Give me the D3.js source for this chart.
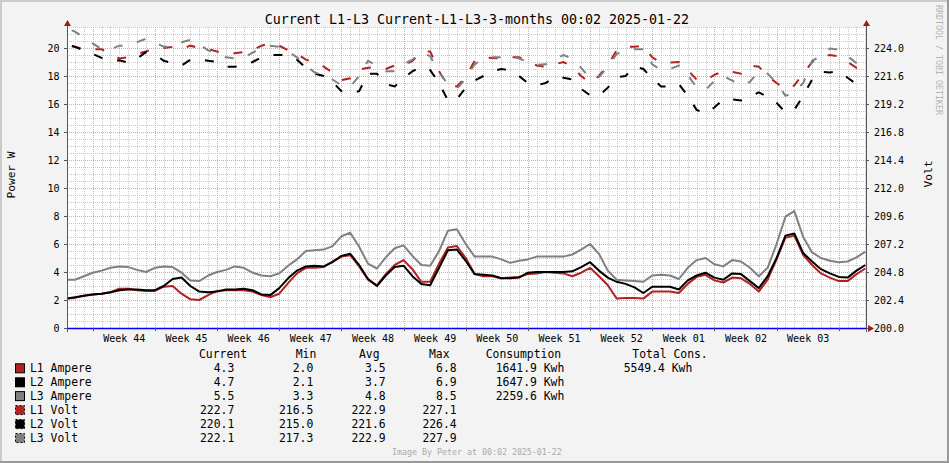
<!DOCTYPE html>
<html><head><meta charset="utf-8">
<script src="https://cdn.jsdelivr.net/npm/d3@7"></script>
<style>
html,body{margin:0;padding:0;background:#f3f3f3;}
svg{display:block;}
text{font-family:"DejaVu Sans Mono",monospace;}
</style></head><body>
<svg id="c" width="949" height="463"></svg>
<script>
// ---- data (one sample per day, 00:00 UTC, from 2024-10-24 to 2025-01-22) ----
const firstDay = Date.UTC(2024, 9, 24);
const l1Amp = [2.1,2.15,2.3,2.4,2.45,2.55,2.8,2.8,2.7,2.65,2.65,2.95,3.0,2.45,2.05,2.0,2.35,2.65,2.7,2.7,
  2.7,2.6,2.35,2.2,2.45,3.2,3.9,4.3,4.3,4.35,4.75,5.1,5.2,4.4,3.45,3.05,3.85,4.5,4.85,4.2,
  3.3,3.3,4.6,5.75,5.85,5.0,3.85,3.7,3.7,3.55,3.6,3.65,3.85,3.9,4.0,3.95,3.9,3.7,3.95,4.3,
  3.7,3.05,2.1,2.15,2.15,2.1,2.6,2.6,2.6,2.5,3.15,3.65,3.8,3.4,3.25,3.6,3.55,3.15,2.6,3.45,
  4.9,6.45,6.6,5.2,4.5,3.9,3.6,3.35,3.35,3.85,4.25];
const l2Amp = [2.1,2.2,2.3,2.4,2.45,2.55,2.7,2.75,2.75,2.7,2.7,3.0,3.5,3.6,3.0,2.6,2.55,2.6,2.75,2.75,
  2.8,2.7,2.4,2.35,2.85,3.55,4.1,4.4,4.45,4.4,4.7,5.15,5.3,4.5,3.5,3.0,3.75,4.35,4.45,3.7,
  3.15,3.05,4.3,5.55,5.6,4.8,3.85,3.8,3.75,3.55,3.55,3.6,3.95,4.0,4.0,4.0,4.0,4.05,4.35,4.7,
  4.1,3.6,3.3,3.15,2.9,2.5,2.95,2.95,2.95,2.75,3.4,3.75,3.95,3.6,3.45,3.9,3.85,3.35,2.85,3.7,
  5.0,6.6,6.75,5.35,4.75,4.2,3.9,3.65,3.6,4.1,4.5];
const l3Amp = [3.45,3.45,3.7,3.95,4.1,4.3,4.4,4.35,4.15,4.0,4.3,4.4,4.35,3.95,3.4,3.35,3.75,4.0,4.15,4.4,
  4.3,3.95,3.75,3.7,3.9,4.45,4.9,5.5,5.55,5.6,5.85,6.55,6.8,5.8,4.6,4.25,5.05,5.7,5.9,5.15,
  4.5,4.45,5.5,6.95,7.05,6.0,5.1,5.1,5.1,4.9,4.65,4.8,4.9,5.1,5.1,5.1,5.1,5.25,5.6,6.0,
  5.3,4.1,3.45,3.4,3.35,3.3,3.75,3.8,3.75,3.5,4.3,4.85,5.0,4.55,4.4,4.85,4.75,4.3,3.7,4.3,
  6.0,7.95,8.35,6.5,5.4,5.0,4.8,4.7,4.75,5.05,5.45];
const l1Volt = [224.3,224.1,223.9,223.9,223.9,223.5,223.1,223.2,223.5,223.7,224.0,224.0,224.1,223.9,224.2,224.0,223.9,223.7,223.5,223.55,
  223.65,223.8,224.2,224.4,224.2,223.8,223.5,223.0,222.8,222.4,221.9,221.25,221.4,222.15,222.3,222.4,222.2,222.5,222.5,222.9,
  223.7,223.7,222.0,220.8,220.7,221.5,222.9,223.2,223.15,223.1,223.2,223.2,222.9,222.5,222.4,222.6,222.8,222.4,221.6,221.0,
  221.6,222.55,223.8,224.1,224.1,224.2,223.2,222.75,222.75,222.8,222.1,221.3,221.2,221.7,222.0,221.95,221.8,222.5,222.4,221.6,
  221.0,220.5,220.8,221.8,222.8,223.2,223.4,223.3,222.8,222.3,222.1];
const l2Volt = [224.3,224.1,223.8,223.5,223.15,222.9,222.95,222.75,223.1,223.65,223.45,222.9,222.7,222.5,223.0,223.05,222.9,222.8,222.4,222.4,
  222.5,222.8,223.2,223.4,223.4,223.4,223.0,222.3,221.8,221.6,221.1,220.3,220.1,220.3,221.8,221.8,220.9,220.7,221.4,222.0,
  222.4,222.1,221.0,219.5,219.6,220.6,221.2,221.6,222.0,222.2,222.1,221.6,221.0,220.8,221.0,221.5,221.45,221.3,220.5,219.95,
  219.9,220.6,221.5,221.6,222.4,222.2,221.4,220.7,220.7,220.9,219.9,218.7,218.4,218.9,219.6,219.6,219.5,219.8,220.2,219.8,
  219.3,218.5,218.7,219.9,221.3,221.95,221.9,222.0,221.45,220.9,220.45];
const l3Volt = [225.7,225.4,224.9,224.4,223.9,223.9,224.2,224.2,224.5,224.8,224.5,224.1,224.1,224.5,224.7,224.3,223.8,223.5,223.2,223.1,
  223.15,223.6,224.0,224.2,224.1,223.7,223.2,222.5,221.9,221.7,221.3,220.8,220.7,221.6,222.9,222.5,222.0,222.0,222.6,223.0,
  223.6,223.3,221.9,220.9,220.5,221.4,222.6,223.1,223.2,223.2,223.3,223.1,222.8,222.55,222.6,223.0,223.4,223.1,222.3,221.4,
  221.5,222.4,223.5,223.7,223.9,223.9,222.6,222.1,222.2,222.5,221.7,220.6,220.4,221.2,221.6,221.2,220.8,221.1,222.0,221.8,
  221.0,219.9,220.2,221.0,222.9,223.3,223.95,223.85,223.3,222.7,222.2];

const weekLabels = ["Week 44","Week 45","Week 46","Week 47","Week 48","Week 49","Week 50","Week 51","Week 52","Week 01","Week 02","Week 03"];
const firstSunday = Date.UTC(2024, 9, 27);
const leftTicks = [0,2,4,6,8,10,12,14,16,18,20];
const rightTicks = [200.0,202.4,204.8,207.2,209.6,212.0,214.4,216.8,219.2,221.6,224.0];

const seriesNames = ["L1 Ampere","L2 Ampere","L3 Ampere","L1 Volt","L2 Volt","L3 Volt"];
const seriesColors = ["#b22222","#000000","#808080","#b22222","#000000","#808080"];
const statCurrent = ["4.3","4.7","5.5","222.7","220.1","222.1"];
const statMin = ["2.0","2.1","3.3","216.5","215.0","217.3"];
const statAvg = ["3.5","3.7","4.8","222.9","221.6","222.9"];
const statMax = ["6.8","6.9","8.5","227.1","226.4","227.9"];
const consumption = ["1641.9 Kwh","1647.9 Kwh","2259.6 Kwh"];
const totalCons = "5549.4 Kwh";

// ---- layout ----
const W = 949, H = 463;
const L = 67, R = 866, T = 27, B = 328;
const DAY = 86400000;
const tStart = Date.UTC(2024, 9, 24, 2, 33), tEnd = Date.UTC(2025, 0, 22, 1, 41);

const svg = d3.select("#c");
const x = d3.scaleUtc().domain([tStart, tEnd]).range([L, R]);
const yW = d3.scaleLinear().domain([0, 21.5]).range([B, T]);
const yV = d3.scaleLinear().domain([200, 200 + 21.5 * 1.2]).range([B, T]);

// background + frame
svg.append("rect").attr("width", W).attr("height", H).attr("fill", "#f3f3f3");
svg.append("rect").attr("x",0).attr("y",0).attr("width",W).attr("height",2).attr("fill","#cbcbcb");
svg.append("rect").attr("x",0).attr("y",0).attr("width",2).attr("height",H).attr("fill","#cbcbcb");
svg.append("rect").attr("x",0).attr("y",H-2).attr("width",W).attr("height",2).attr("fill","#999");
svg.append("rect").attr("x",W-2).attr("y",0).attr("width",2).attr("height",H).attr("fill","#999");

// canvas
svg.append("rect").attr("x", L).attr("y", T).attr("width", R - L).attr("height", B - T).attr("fill", "#fff");

// grid
const grid = svg.append("g").attr("shape-rendering", "crispEdges");
const minorH = d3.range(1, 44).map(k => k * 0.5).filter(v => v % 2 !== 0);
const majorH = leftTicks.filter(v => v > 0);
grid.selectAll(".mh").data(minorH).join("line")
  .attr("x1", L).attr("x2", R).attr("y1", d => Math.round(yW(d)) + 0.5).attr("y2", d => Math.round(yW(d)) + 0.5)
  .attr("stroke", "#c8c8c8").attr("stroke-dasharray", "1,1");
const days = d3.utcDay.range(new Date(tStart), new Date(tEnd));
const sundays = days.filter(d => d.getUTCDay() === 0);
grid.selectAll(".mv").data(days.filter(d => d.getUTCDay() !== 0)).join("line")
  .attr("y1", T).attr("y2", B).attr("x1", d => Math.round(x(d)) + 0.5).attr("x2", d => Math.round(x(d)) + 0.5)
  .attr("stroke", "#c8c8c8").attr("stroke-dasharray", "1,1");
grid.selectAll(".Mh").data(majorH).join("line")
  .attr("x1", L).attr("x2", R).attr("y1", d => Math.round(yW(d)) + 0.5).attr("y2", d => Math.round(yW(d)) + 0.5)
  .attr("stroke", "#f09a9a").attr("stroke-dasharray", "1,1");
grid.selectAll(".Mv").data(sundays).join("line")
  .attr("y1", T).attr("y2", B).attr("x1", d => Math.round(x(d)) + 0.5).attr("x2", d => Math.round(x(d)) + 0.5)
  .attr("stroke", "#f09a9a").attr("stroke-dasharray", "1,1");

// lines
const clip = svg.append("clipPath").attr("id", "pc").append("rect")
  .attr("x", L).attr("y", T - 2).attr("width", R - L).attr("height", B - T + 2);
const plot = svg.append("g").attr("clip-path", "url(#pc)");
const dateOf = i => firstDay + i * DAY;
const ampLine = d3.line().x((d, i) => x(dateOf(i))).y(d => yW(d));
const voltLine = d3.line().x((d, i) => x(dateOf(i))).y(d => yV(d));
[l1Amp, l2Amp, l3Amp].forEach((s, k) => {
  plot.append("path").datum(s).attr("d", ampLine).attr("fill", "none")
    .attr("stroke", seriesColors[k]).attr("stroke-width", 2).attr("stroke-linejoin", "round");
});
[l1Volt, l2Volt, l3Volt].forEach((s, k) => {
  plot.append("path").datum(s).attr("d", voltLine).attr("fill", "none")
    .attr("stroke", seriesColors[k + 3]).attr("stroke-width", 2)
    .attr("stroke-dasharray", "9,15").attr("stroke-dashoffset", 18);
});

// zero rule
svg.append("line").attr("x1", L).attr("x2", R).attr("y1", B + 0.5).attr("y2", B + 0.5)
  .attr("stroke", "#0000ff").attr("stroke-width", 1.5);

// axes
const axisCol = "#555";
const gl = svg.append("g").attr("transform", `translate(${L},0)`)
  .call(d3.axisLeft(yW).tickValues(leftTicks).tickFormat(d3.format("d")).tickSize(3).tickPadding(4.5));
const gr = svg.append("g").attr("transform", `translate(${R},0)`)
  .call(d3.axisRight(yV).tickValues(rightTicks).tickFormat(d3.format(".1f")).tickSize(3).tickPadding(5));
const mids = sundays.slice(0, weekLabels.length).map(d => new Date(+d + 3.5 * DAY));
const gb = svg.append("g").attr("transform", `translate(0,${B})`)
  .call(d3.axisBottom(x).tickValues(mids).tickFormat((d, i) => weekLabels[i]).tickSize(0).tickPadding(6.4));
[gl, gr, gb].forEach(g => {
  g.select(".domain").remove();
  g.selectAll("line").attr("stroke", axisCol);
  g.selectAll("text").attr("font-family", "DejaVu Sans Mono").attr("font-size", 10).attr("fill", "#000");
});
svg.append("g").selectAll("line").data(sundays).join("line")
  .attr("x1", d => Math.round(x(d)) + 0.5).attr("x2", d => Math.round(x(d)) + 0.5)
  .attr("y1", B).attr("y2", B + 3).attr("stroke", axisCol);
svg.append("line").attr("x1", L + 0.5).attr("x2", L + 0.5).attr("y1", 24).attr("y2", B + 4).attr("stroke", axisCol);
svg.append("line").attr("x1", R + 0.5).attr("x2", R + 0.5).attr("y1", 24).attr("y2", B + 4).attr("stroke", axisCol);
// arrows
const arrowCol = "#9b1c1c";
svg.append("path").attr("d", `M${L - 3},${T - 1}L${L + 0.5},${T - 7}L${L + 4},${T - 1}Z`).attr("fill", arrowCol);
svg.append("path").attr("d", `M${R - 3},${T - 1}L${R + 0.5},${T - 7}L${R + 4},${T - 1}Z`).attr("fill", arrowCol);
svg.append("path").attr("d", `M${R + 2},${B - 3}L${R + 8},${B + 0.5}L${R + 2},${B + 4}Z`).attr("fill", arrowCol);

// titles
svg.append("text").attr("x", 477).attr("y", 24).attr("text-anchor", "middle")
  .attr("font-size", 13.3).text("Current L1-L3 Current-L1-L3-3-months 00:02 2025-01-22");
svg.append("text").attr("transform", "translate(15,175) rotate(-90)").attr("text-anchor", "middle")
  .attr("font-size", 11.2).text("Power W");
svg.append("text").attr("transform", "translate(932,174) rotate(-90)").attr("text-anchor", "middle")
  .attr("font-size", 11.2).text("Volt");
svg.append("text").attr("transform", "translate(936,5) rotate(90)").attr("text-anchor", "start")
  .attr("font-size", 8.3).attr("fill", "#b4b4b4").text("RRDTOOL / TOBI OETIKER");
svg.append("text").attr("x", 392).attr("y", 455.3).attr("font-size", 8.3).attr("fill", "#aaa")
  .text("Image By Peter at 00:02 2025-01-22");

// legend
const lg = svg.append("g").attr("font-size", 11.4).attr("fill", "#000");
const hdrY = 358;
[["Current",199],["Min",295.7],["Avg",359],["Max",429],["Consumption",485.7],["Total Cons.",632.3]].forEach(([t, xx]) => {
  lg.append("text").attr("x", xx).attr("y", hdrY).text(t);
});
const rowY = [372.3, 386.3, 400.1, 414.1, 428.1, 442.1];
seriesNames.forEach((n, i) => {
  const cy = rowY[i] - 4;
  lg.append("rect").attr("x", 15.5).attr("y", cy - 4.5).attr("width", 9).attr("height", 9)
    .attr("fill", seriesColors[i]).attr("stroke", "#000").attr("stroke-width", 1)
    .attr("stroke-dasharray", i >= 3 ? "2,2" : null);
  lg.append("text").attr("x", 30).attr("y", rowY[i]).text(n);
  lg.append("text").attr("x", 234.3).attr("y", rowY[i]).attr("text-anchor", "end").text(statCurrent[i]);
  lg.append("text").attr("x", 313.3).attr("y", rowY[i]).attr("text-anchor", "end").text(statMin[i]);
  lg.append("text").attr("x", 385.7).attr("y", rowY[i]).attr("text-anchor", "end").text(statAvg[i]);
  lg.append("text").attr("x", 456.7).attr("y", rowY[i]).attr("text-anchor", "end").text(statMax[i]);
  if (i < 3) lg.append("text").attr("x", 564.3).attr("y", rowY[i]).attr("text-anchor", "end").text(consumption[i]);
});
lg.append("text").attr("x", 692.3).attr("y", rowY[0]).attr("text-anchor", "end").text(totalCons);
</script></body></html>
